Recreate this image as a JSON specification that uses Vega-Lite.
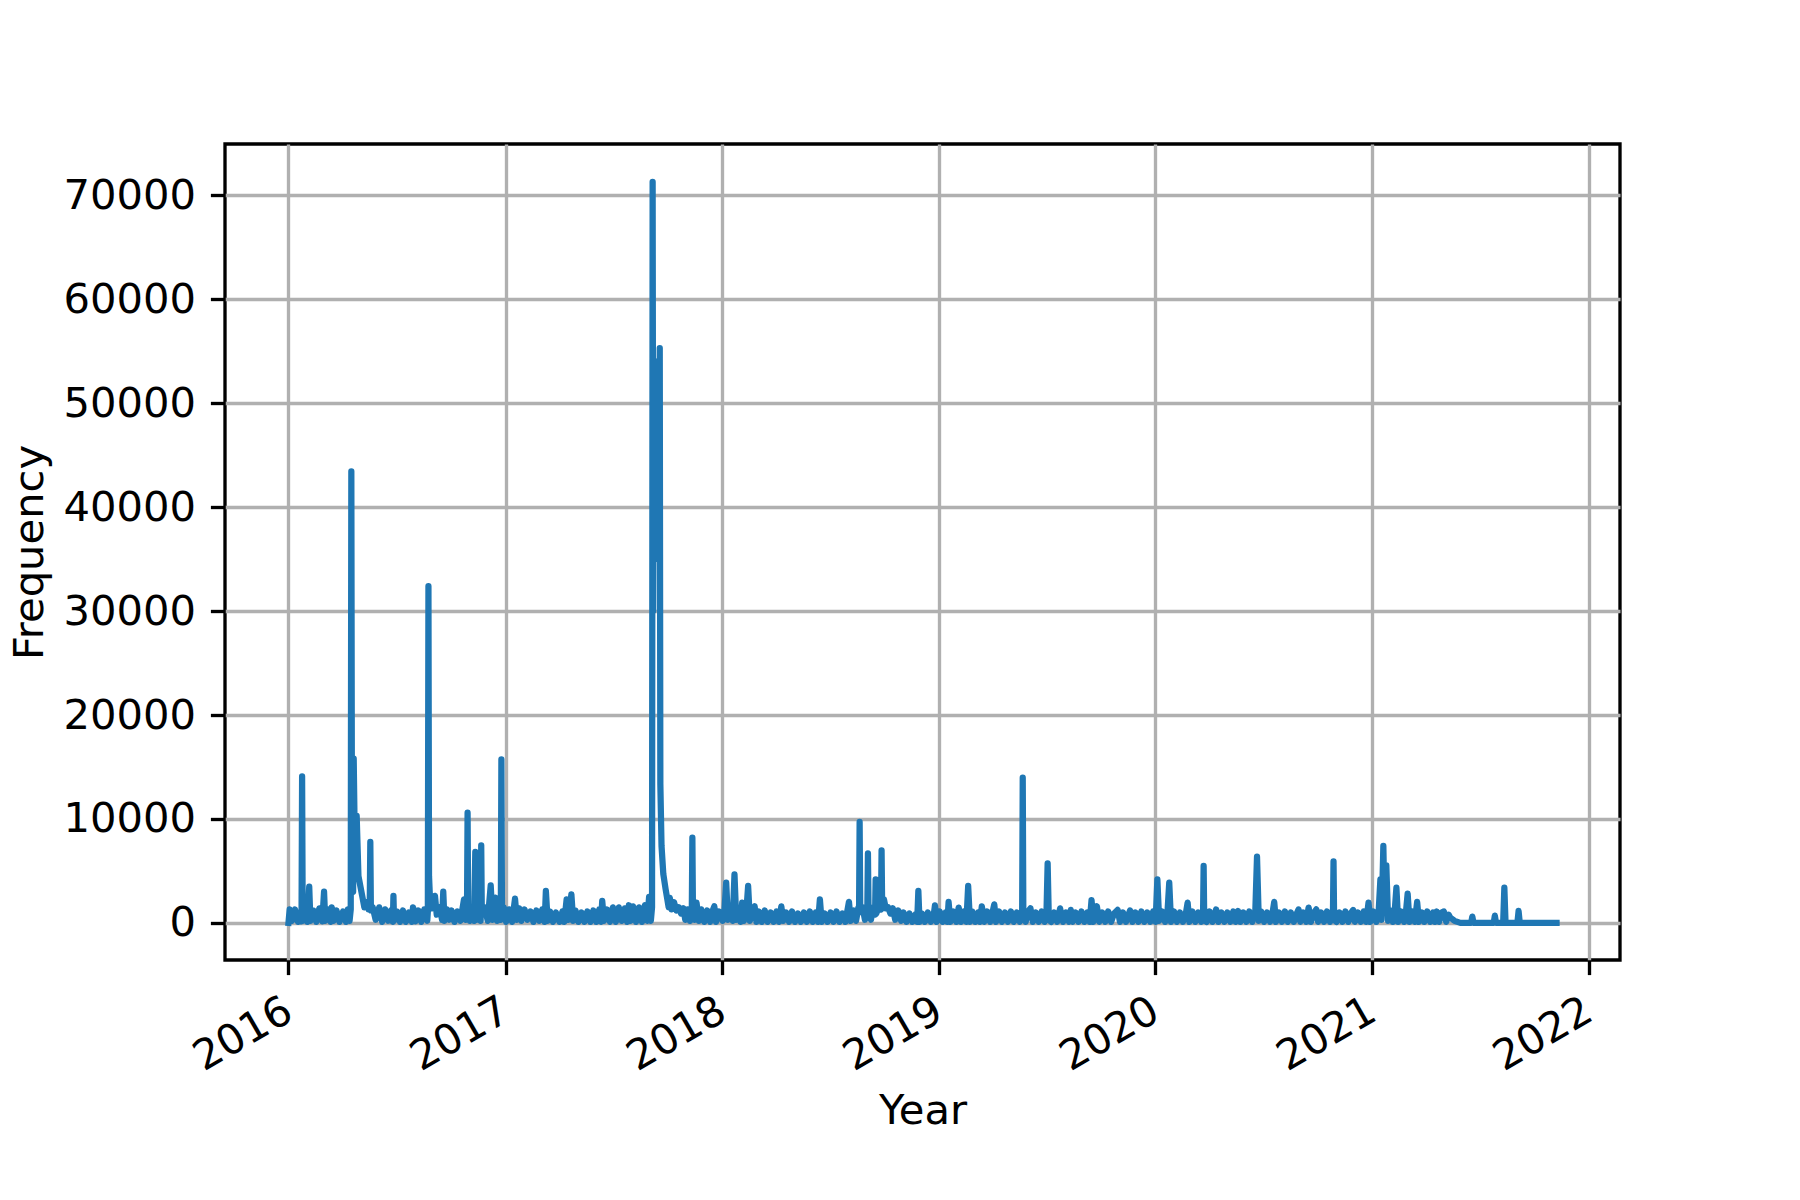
{
"$schema": "https://vega.github.io/schema/vega-lite/v6.json",
"width": 1395, "height": 816,
"autosize": "none",
"padding": {"left": 225, "top": 144, "right": 180, "bottom": 240},
"background": "white",
"config": {"view": {"stroke": "black", "strokeWidth": 3.33}, "font": "DejaVu Sans"},
"data": {"values": [
{"d":"2016-01-01","v":0},{"d":"2016-01-03","v":1300},{"d":"2016-01-07","v":200},{"d":"2016-01-12","v":1300},{"d":"2016-01-17","v":100},{"d":"2016-01-22","v":1100},{"d":"2016-01-23","v":150},{"d":"2016-01-24","v":14100},{"d":"2016-01-25","v":200},{"d":"2016-01-27","v":1300},
{"d":"2016-02-02","v":100},{"d":"2016-02-05","v":3500},{"d":"2016-02-07","v":200},{"d":"2016-02-12","v":1200},{"d":"2016-02-17","v":100},{"d":"2016-02-22","v":1400},{"d":"2016-02-27","v":150},
{"d":"2016-03-01","v":3000},{"d":"2016-03-03","v":200},{"d":"2016-03-07","v":1300},{"d":"2016-03-12","v":100},{"d":"2016-03-14","v":1500},{"d":"2016-03-17","v":200},{"d":"2016-03-22","v":1200},{"d":"2016-03-27","v":100},
{"d":"2016-04-02","v":1100},{"d":"2016-04-07","v":100},{"d":"2016-04-10","v":1300},{"d":"2016-04-13","v":200},{"d":"2016-04-15","v":1300},{"d":"2016-04-16","v":43450},{"d":"2016-04-17","v":9000},{"d":"2016-04-19","v":3000},{"d":"2016-04-20","v":15800},{"d":"2016-04-22","v":7000},{"d":"2016-04-25","v":10300},{"d":"2016-04-28","v":4500},
{"d":"2016-05-04","v":2700},{"d":"2016-05-08","v":1500},{"d":"2016-05-12","v":2000},{"d":"2016-05-15","v":1300},{"d":"2016-05-17","v":1500},{"d":"2016-05-18","v":7790},{"d":"2016-05-19","v":1200},{"d":"2016-05-22","v":1500},{"d":"2016-05-27","v":300},
{"d":"2016-06-02","v":1500},{"d":"2016-06-07","v":100},{"d":"2016-06-12","v":1300},{"d":"2016-06-17","v":200},{"d":"2016-06-22","v":1200},{"d":"2016-06-25","v":100},{"d":"2016-06-26","v":2600},{"d":"2016-06-27","v":200},
{"d":"2016-07-02","v":1100},{"d":"2016-07-07","v":100},{"d":"2016-07-12","v":1200},{"d":"2016-07-17","v":100},{"d":"2016-07-22","v":1000},{"d":"2016-07-27","v":100},{"d":"2016-07-29","v":1500},
{"d":"2016-08-02","v":150},{"d":"2016-08-07","v":1200},{"d":"2016-08-12","v":100},{"d":"2016-08-17","v":1300},{"d":"2016-08-22","v":200},{"d":"2016-08-23","v":1100},{"d":"2016-08-24","v":32400},{"d":"2016-08-25","v":4500},{"d":"2016-08-27","v":1800},{"d":"2016-08-30","v":1400},
{"d":"2016-09-04","v":2600},{"d":"2016-09-07","v":800},{"d":"2016-09-12","v":1500},{"d":"2016-09-16","v":300},{"d":"2016-09-18","v":3000},{"d":"2016-09-20","v":200},{"d":"2016-09-24","v":1300},{"d":"2016-09-28","v":300},
{"d":"2016-10-02","v":1200},{"d":"2016-10-07","v":100},{"d":"2016-10-12","v":1100},{"d":"2016-10-17","v":200},{"d":"2016-10-23","v":2270},{"d":"2016-10-26","v":300},{"d":"2016-10-28","v":1300},{"d":"2016-10-29","v":10600},{"d":"2016-10-30","v":1000},
{"d":"2016-11-02","v":200},{"d":"2016-11-06","v":1500},{"d":"2016-11-09","v":200},{"d":"2016-11-11","v":6830},{"d":"2016-11-13","v":300},{"d":"2016-11-17","v":1500},{"d":"2016-11-20","v":200},{"d":"2016-11-21","v":7460},{"d":"2016-11-22","v":800},{"d":"2016-11-27","v":1500},
{"d":"2016-12-02","v":200},{"d":"2016-12-07","v":3620},{"d":"2016-12-10","v":300},{"d":"2016-12-15","v":2430},{"d":"2016-12-18","v":200},{"d":"2016-12-22","v":1300},{"d":"2016-12-24","v":300},{"d":"2016-12-25","v":15730},{"d":"2016-12-26","v":800},{"d":"2016-12-29","v":1500},
{"d":"2017-01-02","v":100},{"d":"2017-01-07","v":1300},{"d":"2017-01-12","v":100},{"d":"2017-01-17","v":2330},{"d":"2017-01-20","v":300},{"d":"2017-01-24","v":1400},{"d":"2017-01-28","v":200},
{"d":"2017-02-02","v":1300},{"d":"2017-02-07","v":300},{"d":"2017-02-12","v":1100},{"d":"2017-02-17","v":100},{"d":"2017-02-22","v":1200},{"d":"2017-02-27","v":200},
{"d":"2017-03-04","v":1300},{"d":"2017-03-08","v":100},{"d":"2017-03-10","v":3080},{"d":"2017-03-13","v":200},{"d":"2017-03-17","v":1100},{"d":"2017-03-22","v":100},{"d":"2017-03-27","v":1000},
{"d":"2017-04-02","v":100},{"d":"2017-04-07","v":1100},{"d":"2017-04-10","v":100},{"d":"2017-04-14","v":2270},{"d":"2017-04-17","v":300},{"d":"2017-04-22","v":2750},{"d":"2017-04-25","v":200},{"d":"2017-04-29","v":1200},
{"d":"2017-05-04","v":100},{"d":"2017-05-09","v":1000},{"d":"2017-05-14","v":100},{"d":"2017-05-19","v":1100},{"d":"2017-05-24","v":100},{"d":"2017-05-29","v":1200},
{"d":"2017-06-03","v":100},{"d":"2017-06-08","v":1300},{"d":"2017-06-11","v":100},{"d":"2017-06-13","v":2120},{"d":"2017-06-16","v":200},{"d":"2017-06-21","v":1300},{"d":"2017-06-26","v":100},
{"d":"2017-07-01","v":1500},{"d":"2017-07-06","v":100},{"d":"2017-07-11","v":1500},{"d":"2017-07-16","v":200},{"d":"2017-07-21","v":1400},{"d":"2017-07-25","v":100},{"d":"2017-07-28","v":1700},{"d":"2017-07-31","v":200},
{"d":"2017-08-04","v":1600},{"d":"2017-08-09","v":100},{"d":"2017-08-14","v":1500},{"d":"2017-08-19","v":100},{"d":"2017-08-24","v":1700},{"d":"2017-08-28","v":200},{"d":"2017-08-31","v":2500},
{"d":"2017-09-03","v":200},{"d":"2017-09-05","v":1500},{"d":"2017-09-06","v":71300},{"d":"2017-09-07","v":30000},{"d":"2017-09-08","v":52000},{"d":"2017-09-10","v":35000},{"d":"2017-09-12","v":54000},{"d":"2017-09-14","v":40000},{"d":"2017-09-16","v":54000},{"d":"2017-09-17","v":40000},{"d":"2017-09-18","v":55300},{"d":"2017-09-19","v":13400},{"d":"2017-09-21","v":7400},{"d":"2017-09-24","v":4700},{"d":"2017-09-28","v":3200},
{"d":"2017-10-03","v":1500},{"d":"2017-10-05","v":2400},{"d":"2017-10-08","v":1300},{"d":"2017-10-12","v":2000},{"d":"2017-10-16","v":1200},{"d":"2017-10-20","v":1500},{"d":"2017-10-24","v":900},{"d":"2017-10-28","v":1400},{"d":"2017-10-31","v":300},
{"d":"2017-11-04","v":1300},{"d":"2017-11-08","v":200},{"d":"2017-11-11","v":1100},{"d":"2017-11-12","v":8200},{"d":"2017-11-13","v":900},{"d":"2017-11-16","v":300},{"d":"2017-11-19","v":1950},{"d":"2017-11-23","v":200},{"d":"2017-11-27","v":1300},
{"d":"2017-12-02","v":100},{"d":"2017-12-07","v":1200},{"d":"2017-12-12","v":100},{"d":"2017-12-17","v":1300},{"d":"2017-12-19","v":1600},{"d":"2017-12-22","v":100},{"d":"2017-12-27","v":1100},
{"d":"2018-01-02","v":200},{"d":"2018-01-05","v":1100},{"d":"2018-01-08","v":3870},{"d":"2018-01-11","v":300},{"d":"2018-01-15","v":1200},{"d":"2018-01-19","v":200},{"d":"2018-01-22","v":4670},{"d":"2018-01-25","v":300},{"d":"2018-01-29","v":1200},
{"d":"2018-02-01","v":100},{"d":"2018-02-04","v":1950},{"d":"2018-02-07","v":200},{"d":"2018-02-11","v":1100},{"d":"2018-02-14","v":3560},{"d":"2018-02-17","v":200},{"d":"2018-02-21","v":1200},{"d":"2018-02-25","v":1600},{"d":"2018-02-28","v":100},
{"d":"2018-03-04","v":1100},{"d":"2018-03-09","v":100},{"d":"2018-03-14","v":1200},{"d":"2018-03-19","v":100},{"d":"2018-03-24","v":1000},{"d":"2018-03-29","v":100},
{"d":"2018-04-03","v":1100},{"d":"2018-04-07","v":100},{"d":"2018-04-11","v":1600},{"d":"2018-04-14","v":200},{"d":"2018-04-19","v":1000},{"d":"2018-04-24","v":100},{"d":"2018-04-29","v":1100},
{"d":"2018-05-04","v":100},{"d":"2018-05-09","v":900},{"d":"2018-05-14","v":100},{"d":"2018-05-19","v":1000},{"d":"2018-05-24","v":100},{"d":"2018-05-29","v":1100},
{"d":"2018-06-03","v":100},{"d":"2018-06-08","v":1000},{"d":"2018-06-12","v":100},{"d":"2018-06-15","v":2270},{"d":"2018-06-18","v":100},{"d":"2018-06-23","v":900},{"d":"2018-06-28","v":100},
{"d":"2018-07-03","v":1000},{"d":"2018-07-08","v":100},{"d":"2018-07-13","v":1100},{"d":"2018-07-18","v":100},{"d":"2018-07-23","v":900},{"d":"2018-07-28","v":100},
{"d":"2018-08-03","v":2030},{"d":"2018-08-06","v":200},{"d":"2018-08-11","v":1200},{"d":"2018-08-15","v":200},{"d":"2018-08-19","v":1500},{"d":"2018-08-20","v":1000},{"d":"2018-08-21","v":9710},{"d":"2018-08-22","v":1200},{"d":"2018-08-26","v":1500},{"d":"2018-08-30","v":300},
{"d":"2018-09-03","v":1500},{"d":"2018-09-04","v":6690},{"d":"2018-09-05","v":1300},{"d":"2018-09-09","v":300},{"d":"2018-09-13","v":1500},{"d":"2018-09-16","v":800},{"d":"2018-09-17","v":4190},{"d":"2018-09-18","v":900},{"d":"2018-09-22","v":1500},{"d":"2018-09-26","v":1300},{"d":"2018-09-27","v":6990},{"d":"2018-09-28","v":1500},
{"d":"2018-10-01","v":2270},{"d":"2018-10-04","v":1400},{"d":"2018-10-08","v":1500},{"d":"2018-10-12","v":900},{"d":"2018-10-16","v":1400},{"d":"2018-10-20","v":300},{"d":"2018-10-25","v":1200},{"d":"2018-10-30","v":200},
{"d":"2018-11-03","v":1000},{"d":"2018-11-08","v":100},{"d":"2018-11-13","v":900},{"d":"2018-11-18","v":100},{"d":"2018-11-23","v":800},{"d":"2018-11-26","v":100},{"d":"2018-11-28","v":3080},{"d":"2018-11-30","v":100},
{"d":"2018-12-04","v":900},{"d":"2018-12-09","v":100},{"d":"2018-12-14","v":1000},{"d":"2018-12-19","v":100},{"d":"2018-12-24","v":800},{"d":"2018-12-26","v":1680},{"d":"2018-12-29","v":100},
{"d":"2019-01-03","v":1100},{"d":"2019-01-08","v":100},{"d":"2019-01-13","v":1000},{"d":"2019-01-16","v":100},{"d":"2019-01-18","v":2020},{"d":"2019-01-21","v":100},{"d":"2019-01-26","v":1100},{"d":"2019-01-31","v":100},
{"d":"2019-02-04","v":1470},{"d":"2019-02-08","v":100},{"d":"2019-02-13","v":1100},{"d":"2019-02-17","v":100},{"d":"2019-02-20","v":3560},{"d":"2019-02-23","v":100},{"d":"2019-02-27","v":1100},
{"d":"2019-03-04","v":100},{"d":"2019-03-09","v":1000},{"d":"2019-03-12","v":100},{"d":"2019-03-15","v":1600},{"d":"2019-03-19","v":100},{"d":"2019-03-24","v":1100},{"d":"2019-03-29","v":100},
{"d":"2019-04-02","v":1000},{"d":"2019-04-05","v":1780},{"d":"2019-04-08","v":100},{"d":"2019-04-13","v":1100},{"d":"2019-04-18","v":100},{"d":"2019-04-23","v":1000},{"d":"2019-04-28","v":100},
{"d":"2019-05-03","v":1100},{"d":"2019-05-08","v":100},{"d":"2019-05-13","v":1000},{"d":"2019-05-18","v":100},{"d":"2019-05-22","v":900},{"d":"2019-05-23","v":13970},{"d":"2019-05-24","v":800},{"d":"2019-05-28","v":100},
{"d":"2019-06-01","v":1100},{"d":"2019-06-05","v":1400},{"d":"2019-06-09","v":100},{"d":"2019-06-14","v":1000},{"d":"2019-06-19","v":100},{"d":"2019-06-24","v":1100},{"d":"2019-06-29","v":100},
{"d":"2019-07-02","v":900},{"d":"2019-07-04","v":5730},{"d":"2019-07-06","v":300},{"d":"2019-07-10","v":100},{"d":"2019-07-15","v":1000},{"d":"2019-07-20","v":100},{"d":"2019-07-25","v":1400},{"d":"2019-07-30","v":100},
{"d":"2019-08-04","v":1000},{"d":"2019-08-09","v":100},{"d":"2019-08-12","v":1250},{"d":"2019-08-15","v":100},{"d":"2019-08-20","v":1000},{"d":"2019-08-25","v":100},{"d":"2019-08-30","v":1100},
{"d":"2019-09-04","v":100},{"d":"2019-09-09","v":1000},{"d":"2019-09-13","v":100},{"d":"2019-09-16","v":2200},{"d":"2019-09-19","v":100},{"d":"2019-09-25","v":1600},{"d":"2019-09-29","v":100},
{"d":"2019-10-04","v":1000},{"d":"2019-10-09","v":100},{"d":"2019-10-14","v":1100},{"d":"2019-10-19","v":100},{"d":"2019-10-24","v":900},{"d":"2019-10-30","v":1250},
{"d":"2019-11-03","v":100},{"d":"2019-11-08","v":1000},{"d":"2019-11-13","v":100},{"d":"2019-11-20","v":1200},{"d":"2019-11-24","v":100},{"d":"2019-11-29","v":1000},
{"d":"2019-12-04","v":100},{"d":"2019-12-09","v":1100},{"d":"2019-12-14","v":100},{"d":"2019-12-19","v":1000},{"d":"2019-12-24","v":100},{"d":"2019-12-29","v":1100},
{"d":"2020-01-02","v":100},{"d":"2020-01-05","v":4190},{"d":"2020-01-08","v":200},{"d":"2020-01-13","v":1100},{"d":"2020-01-18","v":100},{"d":"2020-01-22","v":1000},{"d":"2020-01-25","v":3870},{"d":"2020-01-28","v":100},
{"d":"2020-02-02","v":1100},{"d":"2020-02-07","v":100},{"d":"2020-02-12","v":1000},{"d":"2020-02-17","v":100},{"d":"2020-02-22","v":900},{"d":"2020-02-25","v":1950},{"d":"2020-02-28","v":100},
{"d":"2020-03-04","v":1100},{"d":"2020-03-09","v":100},{"d":"2020-03-14","v":1000},{"d":"2020-03-19","v":100},{"d":"2020-03-22","v":800},{"d":"2020-03-23","v":5480},{"d":"2020-03-24","v":300},{"d":"2020-03-28","v":100},
{"d":"2020-04-02","v":1100},{"d":"2020-04-07","v":100},{"d":"2020-04-13","v":1300},{"d":"2020-04-17","v":100},{"d":"2020-04-22","v":1000},{"d":"2020-04-27","v":100},
{"d":"2020-05-02","v":1000},{"d":"2020-05-07","v":100},{"d":"2020-05-12","v":1100},{"d":"2020-05-16","v":100},{"d":"2020-05-20","v":1150},{"d":"2020-05-24","v":100},{"d":"2020-05-29","v":1000},
{"d":"2020-06-03","v":100},{"d":"2020-06-08","v":1100},{"d":"2020-06-13","v":100},{"d":"2020-06-18","v":900},{"d":"2020-06-21","v":6370},{"d":"2020-06-24","v":200},{"d":"2020-06-28","v":1100},
{"d":"2020-07-03","v":100},{"d":"2020-07-08","v":1000},{"d":"2020-07-13","v":100},{"d":"2020-07-17","v":900},{"d":"2020-07-20","v":2020},{"d":"2020-07-23","v":100},{"d":"2020-07-28","v":1000},
{"d":"2020-08-02","v":100},{"d":"2020-08-07","v":1100},{"d":"2020-08-12","v":100},{"d":"2020-08-17","v":1000},{"d":"2020-08-22","v":100},{"d":"2020-08-27","v":900},{"d":"2020-08-30","v":1300},
{"d":"2020-09-02","v":100},{"d":"2020-09-07","v":1000},{"d":"2020-09-12","v":100},{"d":"2020-09-16","v":1470},{"d":"2020-09-20","v":100},{"d":"2020-09-25","v":1000},{"d":"2020-09-29","v":1300},
{"d":"2020-10-02","v":100},{"d":"2020-10-07","v":1000},{"d":"2020-10-12","v":100},{"d":"2020-10-17","v":1100},{"d":"2020-10-22","v":100},{"d":"2020-10-27","v":900},{"d":"2020-10-28","v":5920},{"d":"2020-10-29","v":300},
{"d":"2020-11-02","v":100},{"d":"2020-11-07","v":1000},{"d":"2020-11-12","v":100},{"d":"2020-11-17","v":1100},{"d":"2020-11-22","v":100},{"d":"2020-11-26","v":900},{"d":"2020-11-30","v":1250},
{"d":"2020-12-03","v":100},{"d":"2020-12-08","v":1000},{"d":"2020-12-13","v":100},{"d":"2020-12-18","v":1100},{"d":"2020-12-22","v":100},{"d":"2020-12-26","v":1950},{"d":"2020-12-29","v":100},
{"d":"2021-01-03","v":1100},{"d":"2021-01-08","v":100},{"d":"2021-01-12","v":1000},{"d":"2021-01-15","v":4190},{"d":"2021-01-17","v":300},{"d":"2021-01-20","v":7400},{"d":"2021-01-22","v":1200},{"d":"2021-01-25","v":5540},{"d":"2021-01-28","v":200},
{"d":"2021-02-01","v":1200},{"d":"2021-02-05","v":100},{"d":"2021-02-08","v":1000},{"d":"2021-02-11","v":3390},{"d":"2021-02-14","v":100},{"d":"2021-02-19","v":1100},{"d":"2021-02-24","v":100},{"d":"2021-02-27","v":1000},
{"d":"2021-03-02","v":2820},{"d":"2021-03-05","v":100},{"d":"2021-03-10","v":1100},{"d":"2021-03-14","v":100},{"d":"2021-03-18","v":2020},{"d":"2021-03-21","v":100},{"d":"2021-03-26","v":1000},{"d":"2021-03-30","v":100},
{"d":"2021-04-04","v":1100},{"d":"2021-04-09","v":100},{"d":"2021-04-14","v":1000},{"d":"2021-04-17","v":100},{"d":"2021-04-20","v":1100},{"d":"2021-04-24","v":100},{"d":"2021-04-28","v":1000},
{"d":"2021-05-02","v":1100},{"d":"2021-05-06","v":100},{"d":"2021-05-10","v":800},{"d":"2021-05-13","v":500},{"d":"2021-05-20","v":200},{"d":"2021-05-30","v":0},
{"d":"2021-06-17","v":0},{"d":"2021-06-19","v":600},{"d":"2021-06-21","v":0},
{"d":"2021-07-25","v":0},{"d":"2021-07-27","v":700},{"d":"2021-07-29","v":0},
{"d":"2021-08-10","v":0},{"d":"2021-08-12","v":3390},{"d":"2021-08-14","v":0},
{"d":"2021-09-03","v":0},{"d":"2021-09-05","v":1150},{"d":"2021-09-07","v":0},
{"d":"2021-11-08","v":0}
]},
"mark": {"type": "line", "color": "#1f77b4", "strokeWidth": 6.25, "strokeJoin": "round", "strokeCap": "square"},
"encoding": {
  "x": {"field": "d", "type": "temporal",
    "scale": {"type": "utc", "domain": [1442361600000, 1645574400000], "nice": false},
    "axis": {
      "values": [1451606400000, 1483228800000, 1514764800000, 1546300800000, 1577836800000, 1609459200000, 1640995200000],
      "labelExpr": "utcFormat(datum.value, '%Y')",
      "grid": true, "gridColor": "#b0b0b0", "gridWidth": 3.33, "gridOpacity": 1,
      "domain": false,
      "ticks": true, "tickColor": "black", "tickWidth": 3.33, "tickSize": 14.6,
      "labelFont": "DejaVu Sans", "labelFontSize": 41.67, "labelColor": "black",
      "labelAngle": -30, "labelAlign": "right", "labelBaseline": "top",
      "labelPadding": 15, "labelOffset": -10,
      "labelOverlap": false, "labelFlush": false, "labelBound": false,
      "title": "Year", "titleFont": "DejaVu Sans", "titleFontSize": 41.67, "titleFontWeight": "normal", "titleColor": "black",
      "titleBaseline": "alphabetic", "titleY": 163
    }
  },
  "y": {"field": "v", "type": "quantitative",
    "scale": {"domain": [-3568, 74937], "nice": false, "zero": false},
    "axis": {
      "values": [0, 10000, 20000, 30000, 40000, 50000, 60000, 70000],
      "format": "d",
      "grid": true, "gridColor": "#b0b0b0", "gridWidth": 3.33, "gridOpacity": 1,
      "domain": false,
      "ticks": true, "tickColor": "black", "tickWidth": 3.33, "tickSize": 14.6,
      "labelFont": "DejaVu Sans", "labelFontSize": 41.67, "labelColor": "black",
      "labelPadding": 15, "labelAlign": "right", "labelBaseline": "middle",
      "labelOverlap": false, "labelFlush": false, "labelBound": false,
      "title": "Frequency", "titleFont": "DejaVu Sans", "titleFontSize": 41.67, "titleFontWeight": "normal", "titleColor": "black",
      "titleBaseline": "alphabetic", "titleX": -183
    }
  }
}
}
